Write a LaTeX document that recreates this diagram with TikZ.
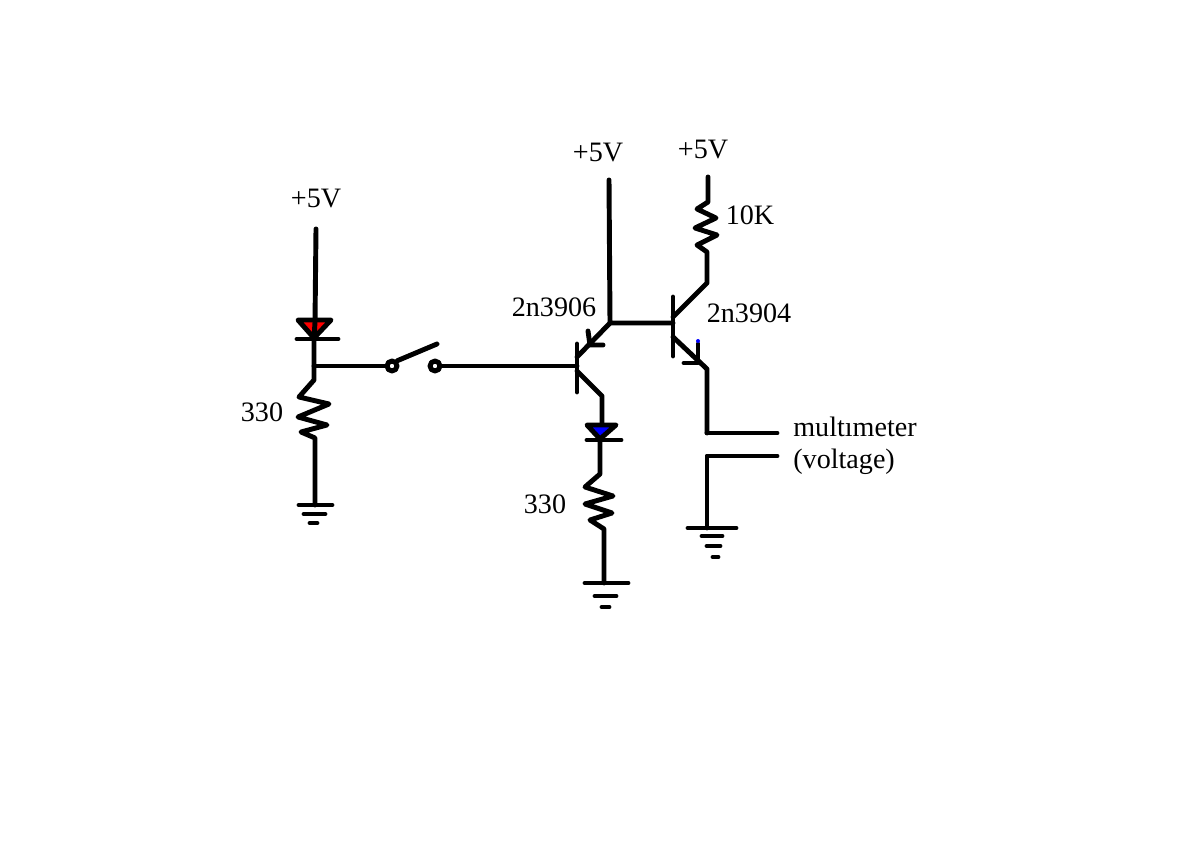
\documentclass[tikz,border=0pt]{standalone}
\usepackage{fontspec}
\setmainfont{Liberation Serif}
\tikzset{
  wire/.style={line width=2.8pt, line cap=round, line join=round},
  tag/.style={font=\fontsize{16}{19}\selectfont, inner sep=0pt},
}

\begin{document}
\begin{tikzpicture}[x=0.02cm, y=-0.02cm]
      \useasboundingbox[fill=white] (0,0) rectangle (1199,857);

      \coordinate (vleft) at (316,229);
      \coordinate (ledtop) at (315,322);
      \coordinate (ledout) at (314,339);
      \coordinate (tee) at (314,366);
      \coordinate (rleft) at (314,380);
      \coordinate (gndleft) at (315,505);
      \coordinate (baseP) at (577,366);
      \coordinate (emitP) at (610,323);
      \coordinate (vmid) at (609,180);
      \coordinate (collP) at (602,396);
      \coordinate (ledb) at (602,426);
      \coordinate (ledbout) at (600,440);
      \coordinate (rmid) at (600,474);
      \coordinate (gndmid) at (604,583);
      \coordinate (baseN) at (673,323);
      \coordinate (vright) at (708,177);
      \coordinate (collN) at (707,283);
      \coordinate (emitN) at (707,369);
      \coordinate (probeA) at (707,433);
      \coordinate (probeB) at (707,456);
      \coordinate (gndright) at (707,528);

      % left branch
      \draw[wire] (vleft) -- (ledtop);
      \draw[wire, fill=red] (298,320) -- (331,320) -- (314,338) -- cycle;
      \draw[wire] (ledtop) -- (ledout);
      \draw[wire] (297,339) -- (338,339);
      \draw[wire] (ledout) -- (tee) -- (rleft) -- (299,397) -- (329,404) -- (298,417)
        -- (327,425) -- (301,432) -- (315,438) -- (gndleft);
      \draw[wire] (299,505) -- (332,505);
      \draw[wire] (304,514) -- (325,514);
      \draw[wire] (310,523) -- (317,523);

      % switch
      \node[circle, wire, draw, minimum size=0.2cm, inner sep=0pt] (swa) at (392,366) {};
      \node[circle, wire, draw, minimum size=0.2cm, inner sep=0pt] (swb) at (435,366) {};
      \draw[wire] (tee) -- (swa);
      \draw[wire] (swb) -- (baseP);
      \draw[wire] (swa.north east) -- (437,344);

      % 2n3906
      \draw[wire] (577,344) -- (577,392);
      \draw[wire] (vmid) -- (emitP) -- (baseN);
      \draw[wire] (emitP) -- (577,357);
      \draw[wire] (588,331) -- (590,345) -- (603,345);
      \draw[wire] (577,371) -- (collP) -- (ledb);
      \draw[wire, fill=blue] (587,425) -- (616,425) -- (600,439) -- cycle;
      \draw[wire] (587,440) -- (621,440);
      \draw[wire] (ledbout) -- (rmid) -- (585,487) -- (613,496) -- (585,504)
        -- (612,513) -- (590,520) -- (604,529) -- (gndmid);
      \draw[wire] (585,583) -- (628,583);
      \draw[wire] (595,596) -- (616,596);
      \draw[wire] (602,607) -- (609,607);

      % 2n3904
      \draw[wire] (673,297) -- (673,356);
      \draw[wire] (vright) -- (708,202) -- (697,209) -- (716,218) -- (695,228)
        -- (717,235) -- (697,245) -- (707,252) -- (collN) -- (673,317);
      \draw[wire] (673,337) -- (emitN) -- (probeA);
      \draw[wire] (698,344) -- (698,363) -- (684,363);
      \fill[blue] (698,341) circle (2);

      % multimeter leads
      \draw[wire] (probeA) -- (777,433);
      \draw[wire] (777,456) -- (probeB) -- (gndright);
      \draw[wire] (688,528) -- (736,528);
      \draw[wire] (702,536) -- (722,536);
      \draw[wire] (707,546) -- (720,546);
      \draw[wire] (713,557) -- (718,557);

      \node[tag] (plusleft) at (316,199) {+5V};
      \node[tag] (plusmid) at (598,153) {+5V};
      \node[tag] (plusright) at (703,150) {+5V};
      \node[tag] (rlabelleft) at (262,412) {330};
      \node[tag] (rlabelmid) at (545,504) {330};
      \node[tag] (rlabelright) at (750,215) {10K};
      \node[tag] (labelP) at (554,307) {2n3906};
      \node[tag] (labelN) at (749,313) {2n3904};
      \node[tag, anchor=west] (meter) at (793,427) {multımeter};
      \node[tag, anchor=west] (volt) at (793,462) {(voltage)};
    \end{tikzpicture}
\end{document}
